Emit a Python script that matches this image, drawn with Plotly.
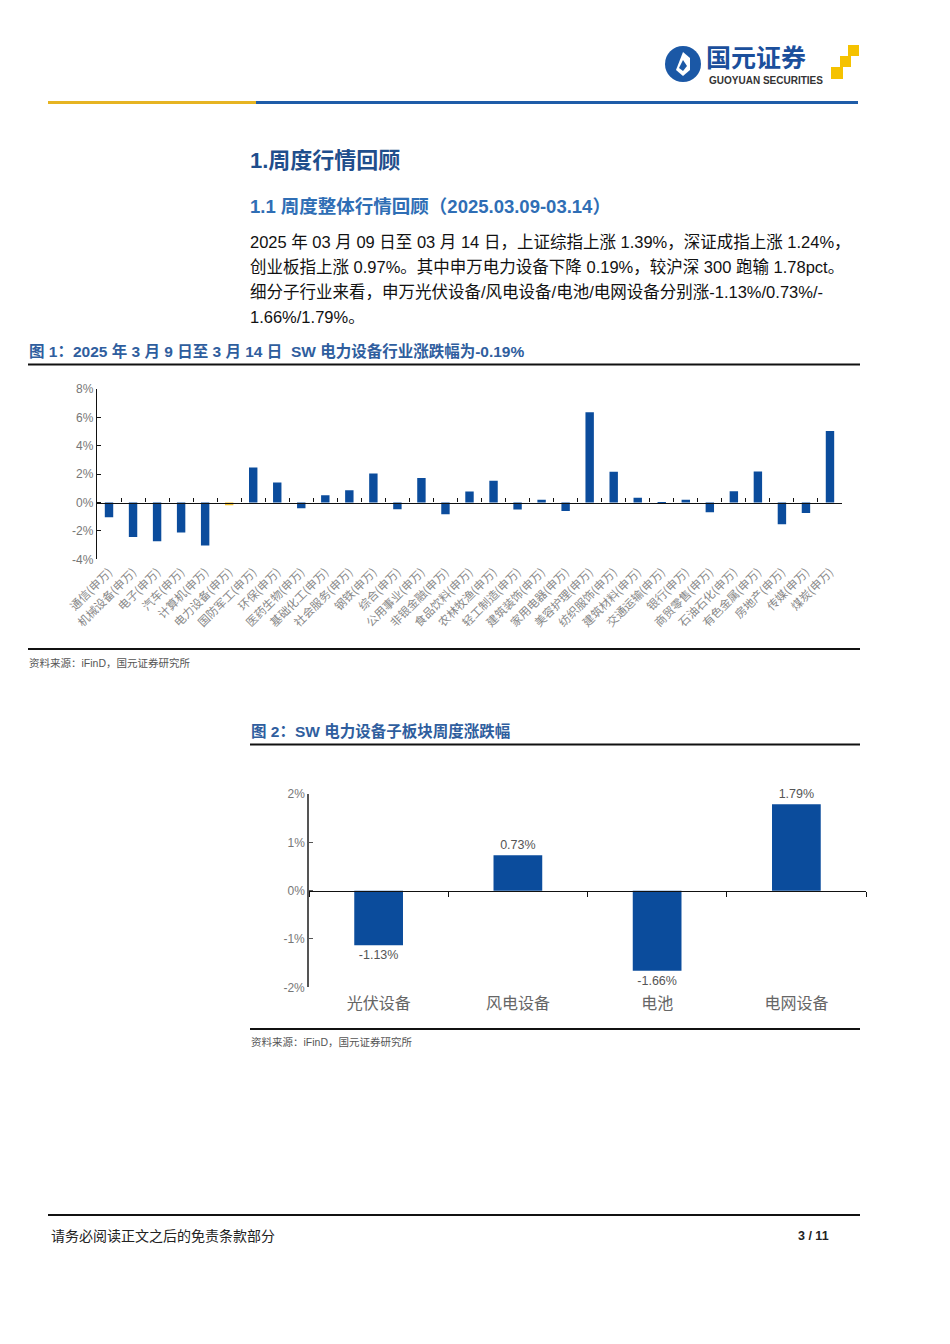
import plotly.graph_objects as go

# page offset caused by the default body margin of the html page
OFF = 8
W, H = 950 - OFF, 1344 - OFF


def px(x):
    return (x - OFF) / W


def py(y):
    return 1 - (y - OFF) / H


# ---------------- data ----------------
industries = ["通信(申万)", "机械设备(申万)", "电子(申万)", "汽车(申万)", "计算机(申万)",
              "电力设备(申万)", "国防军工(申万)", "环保(申万)", "医药生物(申万)", "基础化工(申万)",
              "社会服务(申万)", "钢铁(申万)", "综合(申万)", "公用事业(申万)", "非银金融(申万)",
              "食品饮料(申万)", "农林牧渔(申万)", "轻工制造(申万)", "建筑装饰(申万)", "家用电器(申万)",
              "美容护理(申万)", "纺织服饰(申万)", "建筑材料(申万)", "交通运输(申万)", "银行(申万)",
              "商贸零售(申万)", "石油石化(申万)", "有色金属(申万)", "房地产(申万)", "传媒(申万)",
              "煤炭(申万)"]
industry_changes = [-1.04, -2.43, -2.73, -2.12, -3.02, -0.19, 2.47, 1.41, -0.40, 0.52,
                    0.87, 2.05, -0.47, 1.72, -0.82, 0.78, 1.53, -0.49, 0.19, -0.59,
                    6.36, 2.17, 0.33, -0.09, 0.19, -0.68, 0.80, 2.19, -1.53, -0.73,
                    5.04]
highlight = "电力设备(申万)"
y1_tickvals = [-4, -2, 0, 2, 4, 6, 8]
y1_ticktext = ["-4%", "-2%", "0%", "2%", "4%", "6%", "8%"]

sub_sectors = ["光伏设备", "风电设备", "电池", "电网设备"]
sub_changes = [-1.13, 0.73, -1.66, 1.79]
y2_tickvals = [-2, -1, 0, 1, 2]
y2_ticktext = ["-2%", "-1%", "0%", "1%", "2%"]

# ---------------- styles ----------------
BLUE = "#0b4c9c"
YELLOW = "#f2c12e"
CAP_BLUE = "#2f5e9e"
FONT = "Liberation Sans, Noto Sans CJK SC, sans-serif"
CJK = "Noto Sans CJK SC, sans-serif"

# chart 1 geometry (page pixels)
c1_x0, c1_x1 = 97, 842
c1_ytop, c1_ybot = 389, 559.3
c1_dom_x = [px(c1_x0), px(c1_x1)]
c1_dom_y = [py(c1_ybot), py(c1_ytop)]
c1_zero = c1_dom_y[0] + (0 - y1_tickvals[0]) / (y1_tickvals[-1] - y1_tickvals[0]) * (c1_dom_y[1] - c1_dom_y[0])

# chart 2 geometry
c2_x0, c2_x1 = 309, 866
c2_ytop, c2_ybot = 794, 987.3
c2_dom_x = [px(c2_x0), px(c2_x1)]
c2_dom_y = [py(c2_ybot), py(c2_ytop)]
c2_zero = c2_dom_y[0] + (0 - y2_tickvals[0]) / (y2_tickvals[-1] - y2_tickvals[0]) * (c2_dom_y[1] - c2_dom_y[0])

fig = go.Figure()

# chart 1 bars
fig.add_trace(go.Bar(
    x=industries, y=industry_changes,
    marker=dict(color=[YELLOW if c == highlight else BLUE for c in industries], line=dict(width=0)),
    xaxis="x", yaxis="y", showlegend=False, hoverinfo="x+y",
))
# helper trace for zero axis of chart 1
fig.add_trace(go.Scatter(
    x=industries, y=industry_changes, xaxis="x2", yaxis="y",
    mode="markers", marker=dict(opacity=0), hoverinfo="skip", showlegend=False,
))

# chart 2 bars
fig.add_trace(go.Bar(
    x=sub_sectors, y=sub_changes,
    marker=dict(color=BLUE, line=dict(width=0)),
    text=[f"{v:.2f}%" for v in sub_changes], textposition="outside",
    textfont=dict(family=FONT, size=12.5, color="#555555"),
    cliponaxis=False, xaxis="x3", yaxis="y2", showlegend=False,
))
fig.add_trace(go.Scatter(
    x=sub_sectors, y=sub_changes, xaxis="x4", yaxis="y2",
    mode="markers", marker=dict(opacity=0), hoverinfo="skip", showlegend=False,
))

fig.update_layout(
    width=W, height=H, margin=dict(l=0, r=0, t=0, b=0, autoexpand=False),
    paper_bgcolor="white", plot_bgcolor="rgba(0,0,0,0)",
    bargap=0.65, font=dict(family=FONT),
    xaxis=dict(domain=c1_dom_x, anchor="y", type="category", range=[-0.5, len(industries) - 0.5],
               showline=False, ticks="", tickangle=-45, showgrid=False, zeroline=False, automargin=False,
               ticklabelstandoff=3, tickfont=dict(family=CJK, size=11.5, color="#888888")),
    xaxis2=dict(overlaying="x", anchor="free", position=c1_zero, type="category",
                range=[-0.5, len(industries) - 0.5], showline=True, linecolor="#111111", linewidth=1.3,
                ticks="inside", tickson="boundaries", ticklen=4, tickcolor="#111111", automargin=False,
                showticklabels=False, showgrid=False, zeroline=False),
    yaxis=dict(domain=c1_dom_y, anchor="x", range=[y1_tickvals[0], y1_tickvals[-1]],
               tickvals=y1_tickvals, ticktext=y1_ticktext, showline=True, linecolor="#111111",
               linewidth=1.3, ticks="inside", ticklen=4, tickcolor="#111111", showgrid=False,
               zeroline=False, automargin=False, tickfont=dict(family=FONT, size=12, color="#777777")),
    xaxis3=dict(domain=c2_dom_x, anchor="y2", type="category", range=[-0.5, len(sub_sectors) - 0.5],
                showline=False, ticks="", showgrid=False, zeroline=False, ticklabelstandoff=5,
                automargin=False, tickfont=dict(family=CJK, size=16, color="#666666")),
    xaxis4=dict(overlaying="x3", anchor="free", position=c2_zero, type="category",
                range=[-0.5, len(sub_sectors) - 0.5], showline=True, linecolor="#111111", linewidth=1.3,
                ticks="outside", tickson="boundaries", ticklen=5, tickcolor="#111111", automargin=False,
                showticklabels=False, showgrid=False, zeroline=False),
    yaxis2=dict(domain=c2_dom_y, anchor="x3", range=[y2_tickvals[0], y2_tickvals[-1]],
                tickvals=y2_tickvals, ticktext=y2_ticktext, showline=True, linecolor="#555555",
                linewidth=1.6, ticks="inside", ticklen=4, tickcolor="#555555", showgrid=False,
                zeroline=False, automargin=False, tickfont=dict(family=FONT, size=12, color="#777777")),
)

shapes = []


def hline(x0, x1, y, color, width):
    shapes.append(dict(type="line", xref="paper", yref="paper", x0=px(x0), x1=px(x1),
                       y0=py(y), y1=py(y), line=dict(color=color, width=width)))


# header rule
hline(48, 256, 102.5, "#e6b422", 3)
hline(256, 858, 102.5, "#1e5ca8", 3)
# figure rules
hline(28, 860, 364.5, "#111111", 1.8)
hline(28, 860, 649, "#111111", 1.8)
hline(250, 860, 744.5, "#111111", 1.8)
hline(250, 860, 1029, "#111111", 1.8)
# footer rule
hline(48, 860, 1215, "#111111", 1.8)

# logo: circle + inner shape + yellow squares
shapes.append(dict(type="circle", xref="paper", yref="paper", x0=px(665), x1=px(701),
                   y0=py(82), y1=py(46), fillcolor="#1b58a6", line=dict(width=0)))
shapes.append(dict(type="path", xref="paper", yref="paper",
                   path=f"M {px(676)} {py(70)} L {px(683)} {py(52)} L {px(690)} {py(58)} "
                        f"L {px(690)} {py(70)} L {px(683)} {py(76)} L {px(676)} {py(70)} Z",
                   fillcolor="white", line=dict(width=0)))
shapes.append(dict(type="path", xref="paper", yref="paper",
                   path=f"M {px(679)} {py(68)} L {px(683)} {py(60)} L {px(687)} {py(66)} L {px(683)} {py(71)} Z",
                   fillcolor="#1b58a6", line=dict(width=0)))
for (x0, y0, s) in [(848, 45, 11), (840, 56, 11), (831, 67, 12)]:
    shapes.append(dict(type="rect", xref="paper", yref="paper", x0=px(x0), x1=px(x0 + s),
                       y0=py(y0 + s), y1=py(y0), fillcolor="#f5c200", line=dict(width=0)))

annotations = []


def text(x, y, s, size, color, bold=False, anchor="left", family=FONT):
    if bold:
        s = f"<b>{s}</b>"
    annotations.append(dict(x=px(x), y=py(y), xref="paper", yref="paper", text=s, showarrow=False,
                            xanchor=anchor, yanchor="middle",
                            font=dict(family=family, size=size, color=color)))


text(704, 56, "国元证券", 25, "#1b4f9c", bold=True, family=CJK)
text(707, 81, "GUOYUAN SECURITIES", 10, "#333333", bold=True)

text(248, 160, "1.周度行情回顾", 22, "#1f4e8c", bold=True)
text(248, 207, "1.1 周度整体行情回顾（2025.03.09-03.14）", 18.5, "#2f6eb5", bold=True)
para = [
    "2025 年 03 月 09 日至 03 月 14 日，上证综指上涨 1.39%，深证成指上涨 1.24%，",
    "创业板指上涨 0.97%。其中申万电力设备下降 0.19%，较沪深 300 跑输 1.78pct。",
    "细分子行业来看，申万光伏设备/风电设备/电池/电网设备分别涨-1.13%/0.73%/-",
    "1.66%/1.79%。",
]
for i, line in enumerate(para):
    text(248, 242 + 25 * i, line, 16.5, "#111111")

text(27, 351, "图 1：2025 年 3 月 9 日至 3 月 14 日  SW 电力设备行业涨跌幅为-0.19%", 15.5, CAP_BLUE, bold=True)
text(27, 663, "资料来源：iFinD，国元证券研究所", 10.5, "#555555")
text(249, 731, "图 2：SW 电力设备子板块周度涨跌幅", 15.5, CAP_BLUE, bold=True)
text(249, 1042, "资料来源：iFinD，国元证券研究所", 10.5, "#555555")

text(49, 1236, "请务必阅读正文之后的免责条款部分", 14, "#222222")
text(831, 1236, "3 / 11", 12.5, "#222222", bold=True, anchor="right")

fig.update_layout(shapes=shapes, annotations=annotations)

fig.write_html("out.html")
